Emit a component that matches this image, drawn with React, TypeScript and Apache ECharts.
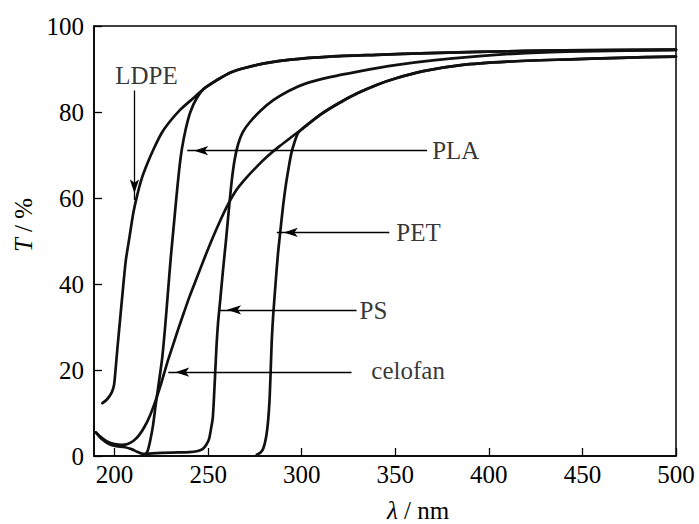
import React, { useEffect, useRef } from 'react';
import * as echarts from 'echarts';

const FONT = '"Liberation Serif", "Times New Roman", serif';

const xTicks = [200, 250, 300, 350, 400, 450, 500];

const ldpe: [number, number][] = [
  [193.5, 12.3], [196, 13.2], [198.5, 14.8], [199.7, 16.5], [200.5, 20], [201.5, 25], [203, 32],
  [204.5, 39], [206, 45.5], [208, 51], [210, 56.5], [212, 60.5], [214.5, 64.5], [217.5, 68],
  [221, 71.5], [225, 75], [229, 77.5], [235, 80.5], [242, 83.2], [248, 85.5], [255, 87.5],
  [262, 89.2], [270, 90.3], [280, 91.3], [294, 92.2], [315, 92.9], [340, 93.3], [368, 93.7],
  [420, 94.2], [460, 94.4], [500, 94.5],
];

const pla: [number, number][] = [
  [216.3, 0.3], [217.5, 1], [219, 3.5], [220.5, 7], [222, 12], [223.8, 17.5], [225.5, 23],
  [227, 30], [228.5, 38], [230, 46], [231.5, 53], [233, 60], [234.5, 66.5], [236, 71.5],
  [238, 76], [240.5, 80], [244, 83.3], [248, 85.5], [255, 87.5], [262, 89.2], [270, 90.3],
  [280, 91.3], [294, 92.2], [315, 92.9], [340, 93.3], [368, 93.7], [420, 94.2], [460, 94.4],
  [500, 94.5],
];

const ps: [number, number][] = [
  [190, 5.5], [193, 4], [197, 2.8], [201, 2.3], [205, 2.1], [209, 1.6], [212, 1], [215, 0.5],
  [220, 0.6], [230, 0.8], [240, 0.9], [244, 1.1], [247, 1.6], [249, 2.6], [250.5, 4],
  [251.6, 6.5], [252.5, 9], [253.5, 17], [254.4, 25], [255.3, 31], [256.4, 36], [258, 43.5],
  [259.5, 50], [261, 57], [262.6, 64], [264.2, 69], [266, 72.5], [268.5, 75.3], [272, 77.5],
  [278, 80.3], [285, 82.8], [293, 84.9], [302, 86.6], [315, 88.1], [330, 89.4], [350, 90.9],
  [370, 92], [395, 93], [420, 93.7], [450, 94.1], [500, 94.4],
];

const pet: [number, number][] = [
  [276, 0.3], [278, 0.8], [279.5, 1.8], [281, 4.5], [282, 8], [282.8, 13], [283.4, 19.6],
  [284, 27], [284.8, 33], [286, 40], [287.3, 47], [288.5, 52], [290, 58], [291.5, 63],
  [293, 67], [294.5, 70.5], [296.3, 73.2], [298, 75.1], [300, 76], [310, 79.4], [320, 82.1],
  [330, 84.4], [340, 86.3], [350, 87.8], [365, 89.5], [385, 90.9], [410, 91.7], [440, 92.2],
  [470, 92.6], [500, 92.9],
];

const celofan: [number, number][] = [
  [190, 5.5], [193, 4.3], [196, 3.4], [200, 2.8], [204, 2.6], [207, 2.8], [210, 3.5],
  [213, 4.8], [216, 6.8], [219, 9.5], [222, 13], [225, 17], [228, 21.5], [231, 25.5],
  [234, 29.5], [237, 33.3], [240, 37], [244, 41.5], [248, 46], [252, 50.3], [256, 54.3],
  [260, 58], [265, 61.8], [270, 64.5], [276, 67.3], [282, 69.8], [288, 72], [294, 74],
  [300, 76], [310, 79.4], [320, 82.1], [330, 84.4], [340, 86.3], [350, 87.8], [365, 89.5],
  [385, 90.9], [410, 91.7], [440, 92.2], [470, 92.6], [500, 92.9],
];

const labelNames = ['LDPE', 'PLA', 'PET', 'PS', 'celofan'];
const labelX = [217, 369.7, 350.5, 330.9, 337.2];
const labelY = [88.6, 71, 52, 33.8, 20];

const arrowTailX = [210.6, 367, 346.8, 329.3, 326.6];
const arrowTailY = [85, 71, 52, 34, 19.5];
const arrowTipX = [210.6, 238.8, 286.7, 256.4, 228.7];
const arrowTipY = [59.5, 71, 52, 34, 19.5];

const curves: { name: string; data: [number, number][] }[] = [
  { name: 'LDPE', data: ldpe },
  { name: 'PLA', data: pla },
  { name: 'PS', data: ps },
  { name: 'PET', data: pet },
  { name: 'celofan', data: celofan },
];

export default function App() {
  const ref = useRef<HTMLDivElement>(null);
  useEffect(() => {
    document.body.style.margin = '0';
    if (!ref.current) return;
    const chart = echarts.init(ref.current, undefined, { renderer: 'svg' });
    const axisLineStyle = { color: '#000', width: 1.5 };
    const lineSeries = curves.map((c) => ({
      type: 'line',
      name: c.name,
      data: c.data,
      showSymbol: false,
      symbol: 'none',
      smooth: 0.25,
      lineStyle: { color: '#111', width: 2.7, cap: 'round', join: 'round' },
      silent: true,
    }));
    const labelSeries = {
      type: 'scatter',
      symbolSize: 0,
      silent: true,
      data: labelNames.map((n, i) => ({
        name: n,
        value: [labelX[i], labelY[i]],
        label: i === 0 ? { position: 'inside', align: 'center' } : { position: 'right', distance: 0 },
      })),
      label: {
        show: true,
        formatter: (p: any) => p.name,
        fontFamily: FONT,
        fontSize: 25,
        color: '#000',
      },
      markLine: {
        silent: true,
        symbol: ['none', 'arrow'],
        symbolSize: [7, 14],
        symbolOffset: [0, [0, 7]],
        label: { show: false },
        lineStyle: { color: '#000', width: 1.3, type: 'solid' },
        data: arrowTailX.map((x, i) => [
          { coord: [x, arrowTailY[i]] },
          { coord: [arrowTipX[i], arrowTipY[i]] },
        ]),
      },
    };
    chart.setOption({
      animation: false,
      backgroundColor: '#fff',
      grid: {
        left: 94,
        right: 23,
        top: 26,
        bottom: 68,
        show: true,
        borderColor: '#000',
        borderWidth: 1.5,
        containLabel: false,
        outerBoundsMode: 'none',
      },
      xAxis: {
        type: 'value',
        min: 189,
        max: 500,
        axisLine: { onZero: false, lineStyle: axisLineStyle },
        axisTick: { inside: true, length: 8, customValues: xTicks, lineStyle: { color: '#000', width: 1.3 } },
        axisLabel: { customValues: xTicks, fontFamily: FONT, fontSize: 25, color: '#000', margin: 6 },
        splitLine: { show: false },
      },
      yAxis: {
        type: 'value',
        min: 0,
        max: 100,
        interval: 20,
        axisLine: { lineStyle: axisLineStyle },
        axisTick: { inside: true, length: 8, lineStyle: { color: '#000', width: 1.3 } },
        axisLabel: { fontFamily: FONT, fontSize: 25, color: '#000', margin: 10 },
        splitLine: { show: false },
      },
      graphic: [
        {
          type: 'text',
          x: 23,
          y: 225,
          rotation: Math.PI / 2,
          style: {
            text: '{i|T} / %',
            fontFamily: FONT,
            fontSize: 25,
            fill: '#000',
            align: 'center',
            verticalAlign: 'middle',
            rich: { i: { fontStyle: 'italic', fontFamily: FONT, fontSize: 25, fill: '#000' } },
          },
        },
        {
          type: 'text',
          x: 418,
          y: 510,
          style: {
            text: '{i|λ} / nm',
            fontFamily: FONT,
            fontSize: 25,
            fill: '#000',
            align: 'center',
            verticalAlign: 'middle',
            rich: { i: { fontStyle: 'italic', fontFamily: FONT, fontSize: 25, fill: '#000' } },
          },
        },
      ],
      series: [...lineSeries, labelSeries],
    });
    return () => chart.dispose();
  }, []);
  return <div ref={ref} style={{ width: 699, height: 524 }} />;
}
